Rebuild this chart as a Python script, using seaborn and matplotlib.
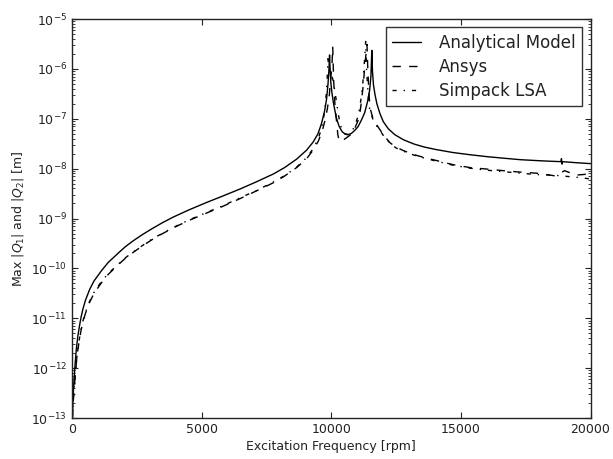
import numpy as np
import pandas as pd
import matplotlib
matplotlib.use("Agg")
import matplotlib.pyplot as plt
import matplotlib.ticker as mticker
import seaborn as sns

# ---- data ----
analytical_rpm = [12, 25, 39, 60, 80, 103, 130, 167, 220, 296, 350, 424, 520, 682, 850, 1131,
                  1400, 1774, 2050, 2353, 2700, 3100, 3500, 3908, 4500, 5195, 5800, 6480, 7100,
                  7765, 8200, 8665, 9050, 9300, 9488, 9620, 9746, 9820, 9874, 9910, 9935, 9955,
                  9985, 10030, 10090, 10195, 10300, 10420, 10540, 10650, 10780, 10900, 11031,
                  11160, 11289, 11400, 11482, 11530, 11565, 11590, 11630, 11690, 11760, 11880,
                  12010, 12200, 12450, 12780, 13200, 13600, 14066, 14700, 15350, 16000, 16635,
                  17300, 17920, 18400, 18860, 18880, 18900, 18920, 19400, 20000]
analytical_val = [1.0e-13, 1.41e-13, 2.4e-13, 4.0e-13, 6.0e-13, 8.9e-13, 1.41e-12, 2.4e-12,
                  4.2e-12, 7.4e-12, 1.05e-11, 1.55e-11, 2.3e-11, 3.8e-11, 5.6e-11, 8.9e-11,
                  1.32e-10, 2.0e-10, 2.7e-10, 3.55e-10, 4.7e-10, 6.3e-10, 8.3e-10, 1.07e-9,
                  1.48e-9, 2.1e-9, 2.8e-9, 3.9e-9, 5.4e-9, 7.8e-9, 1.05e-8, 1.55e-8, 2.35e-8,
                  3.4e-8, 5.0e-8, 7.9e-8, 1.45e-7, 2.5e-7, 4.9e-7, 9.5e-7, 1.9e-6, 1.0e-6,
                  5.2e-7, 3.2e-7, 2.0e-7, 1.05e-7, 7.1e-8, 5.5e-8, 4.9e-8, 4.8e-8, 5.1e-8,
                  5.8e-8, 6.9e-8, 9.3e-8, 1.32e-7, 2.2e-7, 3.8e-7, 7.1e-7, 2.35e-6, 8.9e-7,
                  4.7e-7, 3.0e-7, 2.0e-7, 1.26e-7, 8.7e-8, 6.3e-8, 4.8e-8, 3.8e-8, 3.1e-8,
                  2.7e-8, 2.4e-8, 2.1e-8, 1.9e-8, 1.74e-8, 1.62e-8, 1.51e-8, 1.45e-8, 1.41e-8,
                  1.38e-8, 1.58e-8, 1.23e-8, 1.38e-8, 1.32e-8, 1.26e-8]

ansys_rpm = [15, 30, 50, 80, 103, 130, 167, 220, 296, 350, 424, 520, 682, 850, 1131, 1400,
             1774, 2050, 2418, 2750, 3100, 3500, 3908, 4500, 5195, 5800, 6480, 7100, 7765,
             8200, 8665, 9050, 9300, 9500, 9650, 9750, 9850, 9920, 9980, 10030, 10057, 10090,
             10140, 10195, 10250, 10300, 10360, 10450, 10600, 10775, 10900, 11031, 11100,
             11160, 11230, 11289, 11340, 11378, 11410, 11450, 11494, 11600, 11750, 11880,
             12050, 12265, 12500, 12780, 13200, 13600, 14066, 14700, 15350, 16000, 16635,
             17300, 17920, 18300, 18600, 18800, 19000, 19200, 19400, 19700, 20000]
ansys_val = [1.0e-13, 1.41e-13, 2.24e-13, 3.55e-13, 5.0e-13, 7.6e-13, 1.26e-12, 2.24e-12,
             4.0e-12, 5.75e-12, 8.5e-12, 1.26e-11, 2.1e-11, 3.16e-11, 5.1e-11, 7.6e-11,
             1.17e-10, 1.58e-10, 2.2e-10, 2.9e-10, 3.8e-10, 5.0e-10, 6.5e-10, 9.1e-10,
             1.29e-9, 1.74e-9, 2.5e-9, 3.55e-9, 5.2e-9, 7.1e-9, 1.05e-8, 1.58e-8, 2.35e-8,
             3.55e-8, 5.6e-8, 8.9e-8, 1.58e-7, 2.8e-7, 6.3e-7, 1.26e-6, 2.8e-6, 6.3e-7,
             2.0e-7, 1.0e-7, 5.0e-8, 3.6e-8, 3.5e-8, 3.7e-8, 4.2e-8, 4.9e-8, 6.3e-8, 9.1e-8,
             1.26e-7, 2.1e-7, 4.5e-7, 1.05e-6, 2.0e-6, 3.1e-6, 1.0e-6, 3.55e-7, 1.66e-7,
             1.05e-7, 7.6e-8, 6.0e-8, 4.5e-8, 3.3e-8, 2.7e-8, 2.3e-8, 1.9e-8, 1.66e-8,
             1.45e-8, 1.2e-8, 1.05e-8, 9.8e-9, 9.1e-9, 8.5e-9, 8.1e-9, 7.6e-9, 7.2e-9,
             7.9e-9, 9.1e-9, 8.3e-9, 7.4e-9, 7.6e-9, 7.9e-9]

simpack_rpm = [15, 30, 50, 80, 103, 130, 167, 220, 296, 350, 424, 520, 682, 850, 1131, 1400,
               1774, 2050, 2418, 2750, 3100, 3500, 3908, 4500, 5195, 5800, 6480, 7100, 7765,
               8200, 8665, 9050, 9300, 9500, 9620, 9700, 9760, 9810, 9850, 9875, 9900, 9960,
               10030, 10080, 10140, 10200, 10270, 10340, 10420, 10500, 10620, 10750, 10850,
               10950, 11031, 11100, 11160, 11215, 11260, 11300, 11327, 11360, 11400, 11440,
               11480, 11600, 11750, 11880, 12050, 12265, 12500, 12780, 13200, 13600, 14066,
               14700, 15350, 16000, 16635, 17300, 17920, 18600, 19200, 19600, 20000]
simpack_val = [1.0e-13, 1.51e-13, 2.4e-13, 3.8e-13, 5.4e-13, 7.9e-13, 1.32e-12, 2.35e-12,
               4.2e-12, 6.0e-12, 8.9e-12, 1.32e-11, 2.2e-11, 3.3e-11, 5.4e-11, 7.9e-11,
               1.2e-10, 1.62e-10, 2.24e-10, 2.95e-10, 3.9e-10, 5.1e-10, 6.6e-10, 9.3e-10,
               1.32e-9, 1.78e-9, 2.6e-9, 3.6e-9, 5.4e-9, 7.2e-9, 1.07e-8, 1.66e-8, 2.5e-8,
               4.0e-8, 6.3e-8, 1.0e-7, 1.58e-7, 3.2e-7, 7.9e-7, 1.6e-6, 1.12e-6, 8.9e-7,
               7.1e-7, 5.6e-7, 3.55e-7, 2.2e-7, 1.26e-7, 7.9e-8, 6.0e-8, 5.1e-8, 4.8e-8,
               5.2e-8, 6.3e-8, 8.3e-8, 1.12e-7, 1.66e-7, 2.8e-7, 5.0e-7, 1.0e-6, 2.0e-6,
               3.55e-6, 1.0e-6, 4.5e-7, 2.5e-7, 1.58e-7, 1.0e-7, 7.2e-8, 5.8e-8, 4.3e-8,
               3.2e-8, 2.6e-8, 2.24e-8, 1.86e-8, 1.62e-8, 1.41e-8, 1.17e-8, 1.02e-8, 9.3e-9,
               8.7e-9, 8.1e-9, 7.6e-9, 7.4e-9, 6.9e-9, 6.6e-9, 6.2e-9]

series_labels = ["Analytical Model", "Ansys", "Simpack LSA"]
x_ticks = [0, 5000, 10000, 15000, 20000]
y_ticks = [1e-13, 1e-12, 1e-11, 1e-10, 1e-9, 1e-8, 1e-7, 1e-6, 1e-5]

# ---- style ----
sns.set_style("ticks")
plt.rcParams.update({
    "font.family": ["DejaVu Sans"],
    "xtick.direction": "in",
    "ytick.direction": "in",
    "xtick.top": True,
    "ytick.right": True,
    "xtick.major.size": 4,
    "ytick.major.size": 4,
    "ytick.minor.size": 2,
    "xtick.minor.size": 2,
    "xtick.major.width": 0.8,
    "ytick.major.width": 0.8,
    "ytick.minor.width": 0.6,
    "axes.edgecolor": "#222222",
    "axes.linewidth": 1.0,
    "xtick.color": "#222222",
    "ytick.color": "#222222",
    "text.color": "#222222",
    "axes.labelcolor": "#222222",
})

fig = plt.figure(figsize=(6.13, 4.59), dpi=100)
ax = fig.add_axes([72 / 613, 1 - 418 / 459, 518.5 / 613, 399 / 459])

frames = [
    (analytical_rpm, analytical_val, "-"),
    (ansys_rpm, ansys_val, (0, (6, 6))),
    (simpack_rpm, simpack_val, (0, (3, 5, 1, 5))),
]
for (xs, ys, ls), lab in zip(frames, series_labels):
    df = pd.DataFrame({"rpm": xs, "amp": ys})
    sns.lineplot(data=df, x="rpm", y="amp", ax=ax, color="black", linewidth=1.0,
                 linestyle=ls, label=lab, sort=True, estimator=None)

ax.set_yscale("log")
ax.set_xlim(0, 20000)
ax.set_ylim(1e-13, 1e-5)
ax.set_xticks(x_ticks)
ax.set_xticklabels([str(t) for t in x_ticks])
ax.yaxis.set_major_locator(mticker.FixedLocator(y_ticks))
ax.yaxis.set_minor_locator(mticker.LogLocator(base=10, subs=[2, 3, 4, 5, 6, 7, 8, 9]))
ax.yaxis.set_minor_formatter(mticker.NullFormatter())
ax.tick_params(axis="both", which="major", labelsize=9)
ax.tick_params(axis="x", which="minor", bottom=False, top=False)
ax.set_xlabel("Excitation Frequency [rpm]", fontsize=9, labelpad=3)
ax.set_ylabel(r"Max $|Q_1|$ and $|Q_2|$ [m]", fontsize=9)

leg = ax.legend(loc="upper right", fontsize=12, frameon=True, fancybox=False,
                framealpha=1, edgecolor="#333333", handlelength=1.7,
                borderpad=0.4, labelspacing=0.35, handletextpad=1.1)
leg.get_frame().set_linewidth(1.0)

fig.savefig("out.png", dpi=100)
